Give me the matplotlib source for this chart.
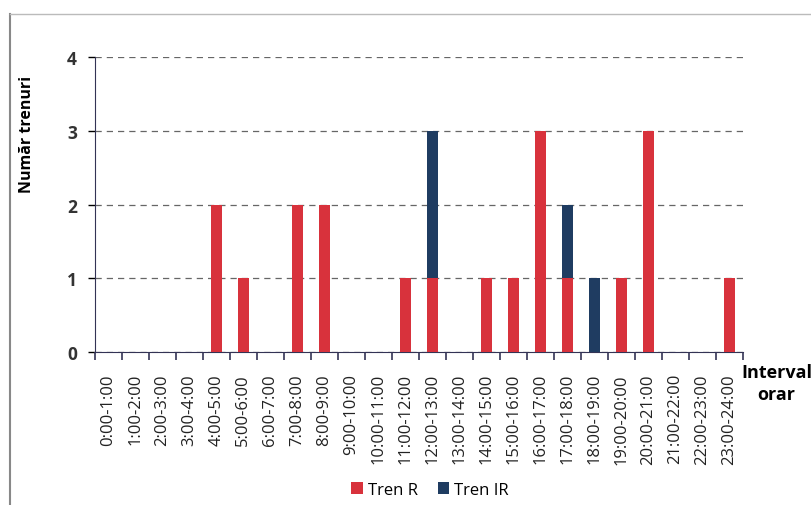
import numpy as np
import matplotlib.pyplot as plt

intervals = ['%d:00-%d:00' % (h, h + 1) for h in range(24)]
tren_r = [0, 0, 0, 0, 2, 1, 0, 2, 2, 0, 0, 1, 1, 0, 1, 1, 3, 1, 0, 1, 3, 0, 0, 1]
tren_ir = [0, 0, 0, 0, 0, 0, 0, 0, 0, 0, 0, 0, 2, 0, 0, 0, 0, 1, 1, 0, 0, 0, 0, 0]

plt.rcParams['font.family'] = ['Open Sans', 'DejaVu Sans']

red = '#d8323c'
blue = '#1f3c61'

fig = plt.figure(figsize=(8.11, 5.06), dpi=100)
ax = fig.add_axes([0.117, 0.302, 0.799, 0.583])

x = np.arange(len(intervals))
r = np.array(tren_r)
ir = np.array(tren_ir)
mr = r > 0
mi = ir > 0
ax.bar(x[mr], r[mr], width=0.42, color=red, label='Tren R', zorder=3)
ax.bar(x[mi], ir[mi], width=0.42, bottom=r[mi], color=blue, label='Tren IR', zorder=3)

ax.set_xlim(-0.5, len(intervals) - 0.5)
ax.set_ylim(0, 4)
ax.set_yticks([0, 1, 2, 3, 4])
ax.yaxis.grid(True, linestyle=(0, (5, 4)), color='#666666', linewidth=0.9, zorder=0)
ax.tick_params(axis='y', labelsize=12.5, length=5, direction='out', width=1, pad=8)
for lbl in ax.get_yticklabels():
    lbl.set_fontweight('bold')
    lbl.set_color('#333333')

ax.set_xticks(x)
ax.set_xticklabels(intervals, rotation=90, fontsize=12, color='#222222')
ax.tick_params(axis='x', length=0, pad=15)

# category boundary tick marks below the axis
ax.vlines(np.arange(-0.5, len(intervals)), -0.025, 0, transform=ax.get_xaxis_transform(),
          colors='#333355', linewidth=1.2, clip_on=False)

for side in ['top', 'right']:
    ax.spines[side].set_visible(False)
ax.spines['left'].set_color('#333355')
ax.spines['bottom'].set_color('#333355')

ax.set_ylabel('Număr trenuri', fontsize=11.5, fontweight='bold')
ax.yaxis.set_label_coords(-0.093, 0.74)
ax.text(1.052, -0.105, 'Interval\norar', transform=ax.transAxes, fontsize=13,
        fontweight='bold', ha='center', va='center', linespacing=1.25)

fig.legend(loc='lower center', bbox_to_anchor=(0.53, -0.015), ncol=2, frameon=False,
           fontsize=12, handlelength=0.7, handleheight=0.7, handletextpad=0.3,
           columnspacing=1.2)

# scanned frame border
fig.add_artist(plt.Line2D([0.012, 0.012], [0.0, 0.97], color='#888888', linewidth=1.5))
fig.add_artist(plt.Line2D([0.012, 1.0], [0.97, 0.97], color='#bbbbbb', linewidth=1.0))

fig.savefig('out.png', dpi=100)
